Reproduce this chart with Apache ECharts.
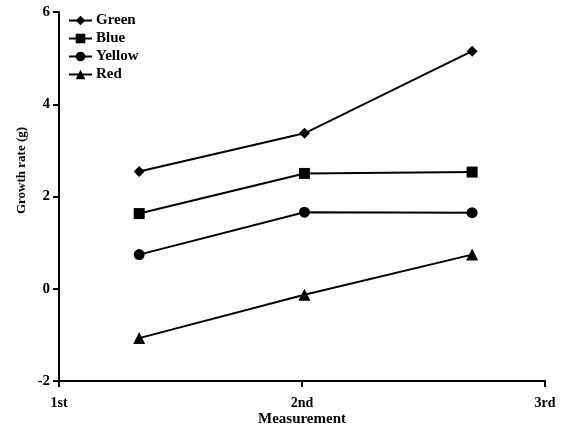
<!DOCTYPE html>
<html><head><meta charset="utf-8">
<script src="https://cdn.jsdelivr.net/npm/echarts@6/dist/echarts.min.js"></script>
<style>html,body{margin:0;padding:0;background:#fff}#c{width:562px;height:431px}</style>
</head><body><div id="c"></div>
<script>
const xPositions = [1.33, 2.01, 2.70];
const xTickLabels = {1: '1st', 2: '2nd', 3: '3rd'};
const seriesNames = ['Green', 'Blue', 'Yellow', 'Red'];
const green = [2.54, 3.37, 5.15];
const blue = [1.63, 2.50, 2.53];
const yellow = [0.74, 1.66, 1.65];
const red = [-1.07, -0.13, 0.74];
const symbols = ['diamond', 'rect', 'circle', 'triangle'];
const values = [green, blue, yellow, red];

const font = 'Liberation Serif';
const chart = echarts.init(document.getElementById('c'));
chart.setOption({
  animation: false,
  backgroundColor: '#fff',
  grid: {left: 59, right: 17, top: 12, bottom: 50, outerBoundsMode: 'none', containLabel: false},
  legend: {
    orient: 'vertical', left: 63, top: 8, itemGap: 3, itemWidth: 23, itemHeight: 12,
    textStyle: {fontFamily: font, fontSize: 15, fontWeight: 'bold', color: '#000', padding: [0,0,0,-1]},
    data: seriesNames
  },
  xAxis: {
    type: 'value', min: 1, max: 3, interval: 1,
    name: 'Measurement', nameLocation: 'middle', nameGap: 31, nameMoveOverlap: false,
    nameTextStyle: {fontFamily: font, fontSize: 15, fontWeight: 'bold', color: '#000'},
    axisLine: {onZero: false, lineStyle: {color: '#000', width: 2}},
    axisTick: {show: true, length: 6, lineStyle: {color: '#000', width: 2}},
    axisLabel: {fontFamily: font, fontSize: 14, fontWeight: 'bold', color: '#000', margin: 15,
      formatter: v => xTickLabels[v] || ''},
    splitLine: {show: false}
  },
  yAxis: {
    type: 'value', min: -2, max: 6, interval: 2,
    name: 'Growth rate (g)', nameLocation: 'middle', nameGap: 31, nameMoveOverlap: false,
    nameTextStyle: {fontFamily: font, fontSize: 13, fontWeight: 'bold', color: '#000', padding: [0,0,0,52]},
    axisLine: {show: true, onZero: false, lineStyle: {color: '#000', width: 2}},
    axisTick: {show: true, length: 6, lineStyle: {color: '#000', width: 2}},
    axisLabel: {fontFamily: font, fontSize: 15, fontWeight: 'bold', color: '#000', margin: 9},
    splitLine: {show: false}
  },
  series: seriesNames.map((n, i) => ({
    name: n, type: 'line',
    data: xPositions.map((x, j) => [x, values[i][j]]),
    symbol: symbols[i], symbolSize: symbols[i] === 'triangle' ? 12 : 11,
    showSymbol: true,
    lineStyle: {color: '#000', width: 2},
    itemStyle: {color: '#000'}
  }))
});
</script></body></html>
